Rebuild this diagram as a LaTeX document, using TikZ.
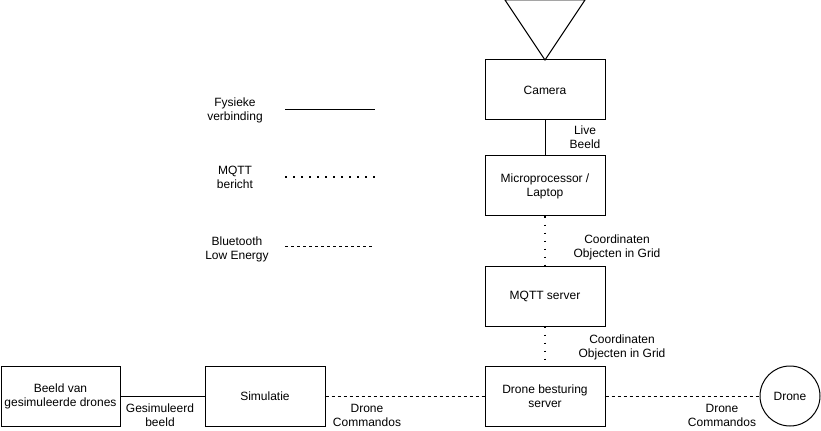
\documentclass[tikz,border=0pt]{standalone}
\usepackage{fontspec}
\setmainfont{Liberation Sans}
\begin{document}
\begin{tikzpicture}[x=0.75pt,y=-0.75pt,
  every node/.style={font=\fontsize{9pt}{10.5pt}\selectfont},
  box/.style={draw,line width=0.75pt,minimum width=90pt,minimum height=45pt,inner sep=0pt,align=center},
  lbl/.style={align=center,inner sep=0pt},
  solidline/.style={line width=0.75pt},
  dotline/.style={line width=1.4pt,dash pattern=on 1.4pt off 4.6pt},
  dashline/.style={line width=0.75pt,dash pattern=on 2.25pt off 2.25pt}]
\useasboundingbox (0,0) rectangle (821,431);
% triangle
\draw[line width=0.75pt] (505,0) -- (585,0) -- (545,60) -- cycle;
% boxes
\node[box] (cam) at (545,90) {Camera};
\node[box] (micro) at (545,186) {Microprocessor /\\Laptop};
\node[box] (mqtt) at (545,296) {MQTT server};
\node[box] (ctrl) at (545,396) {Drone besturing\\server};
\node[box,minimum width=89.25pt] (beeld) at (60.5,396) {Beeld van\\gesimuleerde drones};
\node[box] (sim) at (265,396) {Simulatie};
\node[draw,line width=0.75pt,circle,minimum size=45pt,inner sep=0pt] (drone) at (790,396) {Drone};
% connectors
\draw[solidline] (cam) -- (micro);
\draw[dotline] (micro) -- (mqtt);
\draw[dotline] (mqtt) -- (ctrl);
\draw[solidline] (beeld) -- (sim);
\draw[dashline] (sim) -- (ctrl);
\draw[dashline] (ctrl) -- (drone);
% labels
\node[lbl] (l1) at (585,137) {Live\\Beeld};
\node[lbl] (l2) at (617,247) {Coordinaten\\Objecten in Grid};
\node[lbl] (l3) at (622,347) {Coordinaten\\Objecten in Grid};
\node[lbl] (l4) at (160,415) {Gesimuleerd\\beeld};
\node[lbl] (l5) at (367,415) {Drone\\Commandos};
\node[lbl] (l6) at (722,415) {Drone\\Commandos};
% legend
\node[lbl] (g1) at (235,110) {Fysieke\\verbinding};
\node[lbl] (g2) at (235,177) {MQTT\\bericht};
\node[lbl] (g3) at (237,249) {Bluetooth\\Low Energy};
\coordinate (a1) at (285,110); \coordinate (b1) at (375,110);
\coordinate (a2) at (285,177); \coordinate (b2) at (375,177);
\coordinate (a3) at (285,246); \coordinate (b3) at (372,246);
\draw[solidline] (a1) -- (b1);
\draw[dotline] (a2) -- (b2);
\draw[dashline] (a3) -- (b3);
\end{tikzpicture}
\end{document}
